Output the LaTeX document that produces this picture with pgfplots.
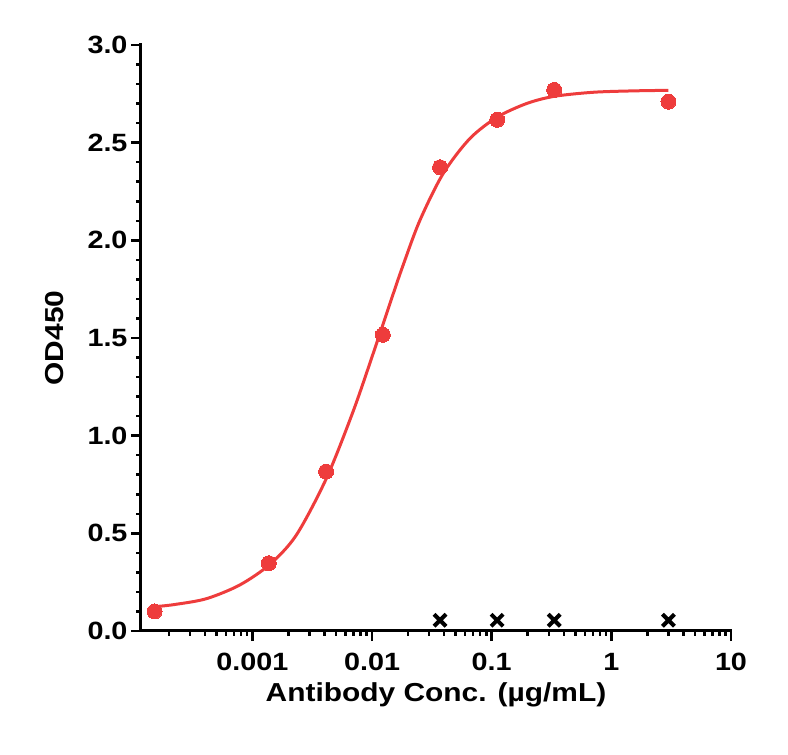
\documentclass[border=0pt]{standalone}
\usepackage{fontspec}
\setmainfont{Liberation Sans}[FakeStretch=1.15]
\usepackage{pgfplots}
\pgfplotsset{compat=1.18}
\definecolor{odred}{RGB}{238,60,60}

\begin{document}
\begin{tikzpicture}
\begin{axis}[
    scale only axis,
    width=590pt, height=586pt,
    xmode=log,
    xmin=1.17e-4, xmax=10,
    ymin=0, ymax=3,
    axis x line*=bottom,
    axis y line*=left,
    axis line style={line width=3pt, line cap=rect},
    tick align=outside,
    major tick length=10pt,
    minor tick length=5pt,
    major tick style={line width=2.5pt, black},
    minor tick style={line width=2.5pt, black},
    xtick={0.001,0.01,0.1,1,10},
    xticklabels={0.001,0.01,0.1,1,10},
    minor xtick={2e-4,3e-4,4e-4,5e-4,6e-4,7e-4,8e-4,9e-4,
                 2e-3,3e-3,4e-3,5e-3,6e-3,7e-3,8e-3,9e-3,
                 0.02,0.03,0.04,0.05,0.06,0.07,0.08,0.09,
                 0.2,0.3,0.4,0.5,0.6,0.7,0.8,0.9,
                 2,3,4,5,6,7,8,9},
    ytick={0,0.5,...,3},
    minor y tick num=4,
    /pgf/number format/assume math mode=true,
    yticklabel style={/pgf/number format/.cd, fixed, fixed zerofill, precision=1},
    xticklabel style={yshift=-9pt},
    tick label style={font=\fontsize{25}{30}\selectfont\bfseries},
    label style={font=\fontsize{26}{31}\selectfont\bfseries},
    xlabel={Antibody Conc. (µg/mL)},
    ylabel={OD450},
    xlabel style={at={(axis description cs:0.5,-0.1195)}, anchor=base},
    ylabel style={at={(axis description cs:-0.146,0.5)}, anchor=center},
    clip=false,
]

% fitted curve
\addplot[odred, line width=3pt, smooth, no marks] coordinates {
    (1.55e-4,0.125) (2.2e-4,0.135) (4.1e-4,0.165) (7.8e-4,0.235)
    (0.00139,0.34) (0.00232,0.49) (0.00414,0.78) (0.0069,1.12)
    (0.0102,1.42) (0.0149,1.72) (0.0181,1.87) (0.0250,2.10)
    (0.0391,2.34) (0.0654,2.52) (0.1107,2.63) (0.195,2.70)
    (0.332,2.737) (0.705,2.758) (1.5,2.765) (3.0,2.768)
};

% measured points
\addplot[color=odred, only marks, mark=*, mark size=7.5pt, mark options={fill=odred, draw=odred, line width=0pt}] coordinates {
    (0.000152,0.10) (0.00137,0.347) (0.00412,0.816) (0.0123,1.516)
    (0.037,2.374) (0.111,2.617) (0.333,2.77) (3,2.71)
};

% negative control
\addplot[color=black, line width=4pt, only marks, mark=x, mark size=8.5pt, mark options={line width=4pt, solid}] coordinates {
    (0.037,0.055) (0.111,0.055) (0.333,0.055) (3,0.055)
};

\end{axis}
\path (current axis.south west) ++(-141pt,-124pt) coordinate (bbsw);
\path (current axis.north east) ++(57pt,45pt) coordinate (bbne);
\path (bbsw) rectangle (bbne);
\end{tikzpicture}
\end{document}
